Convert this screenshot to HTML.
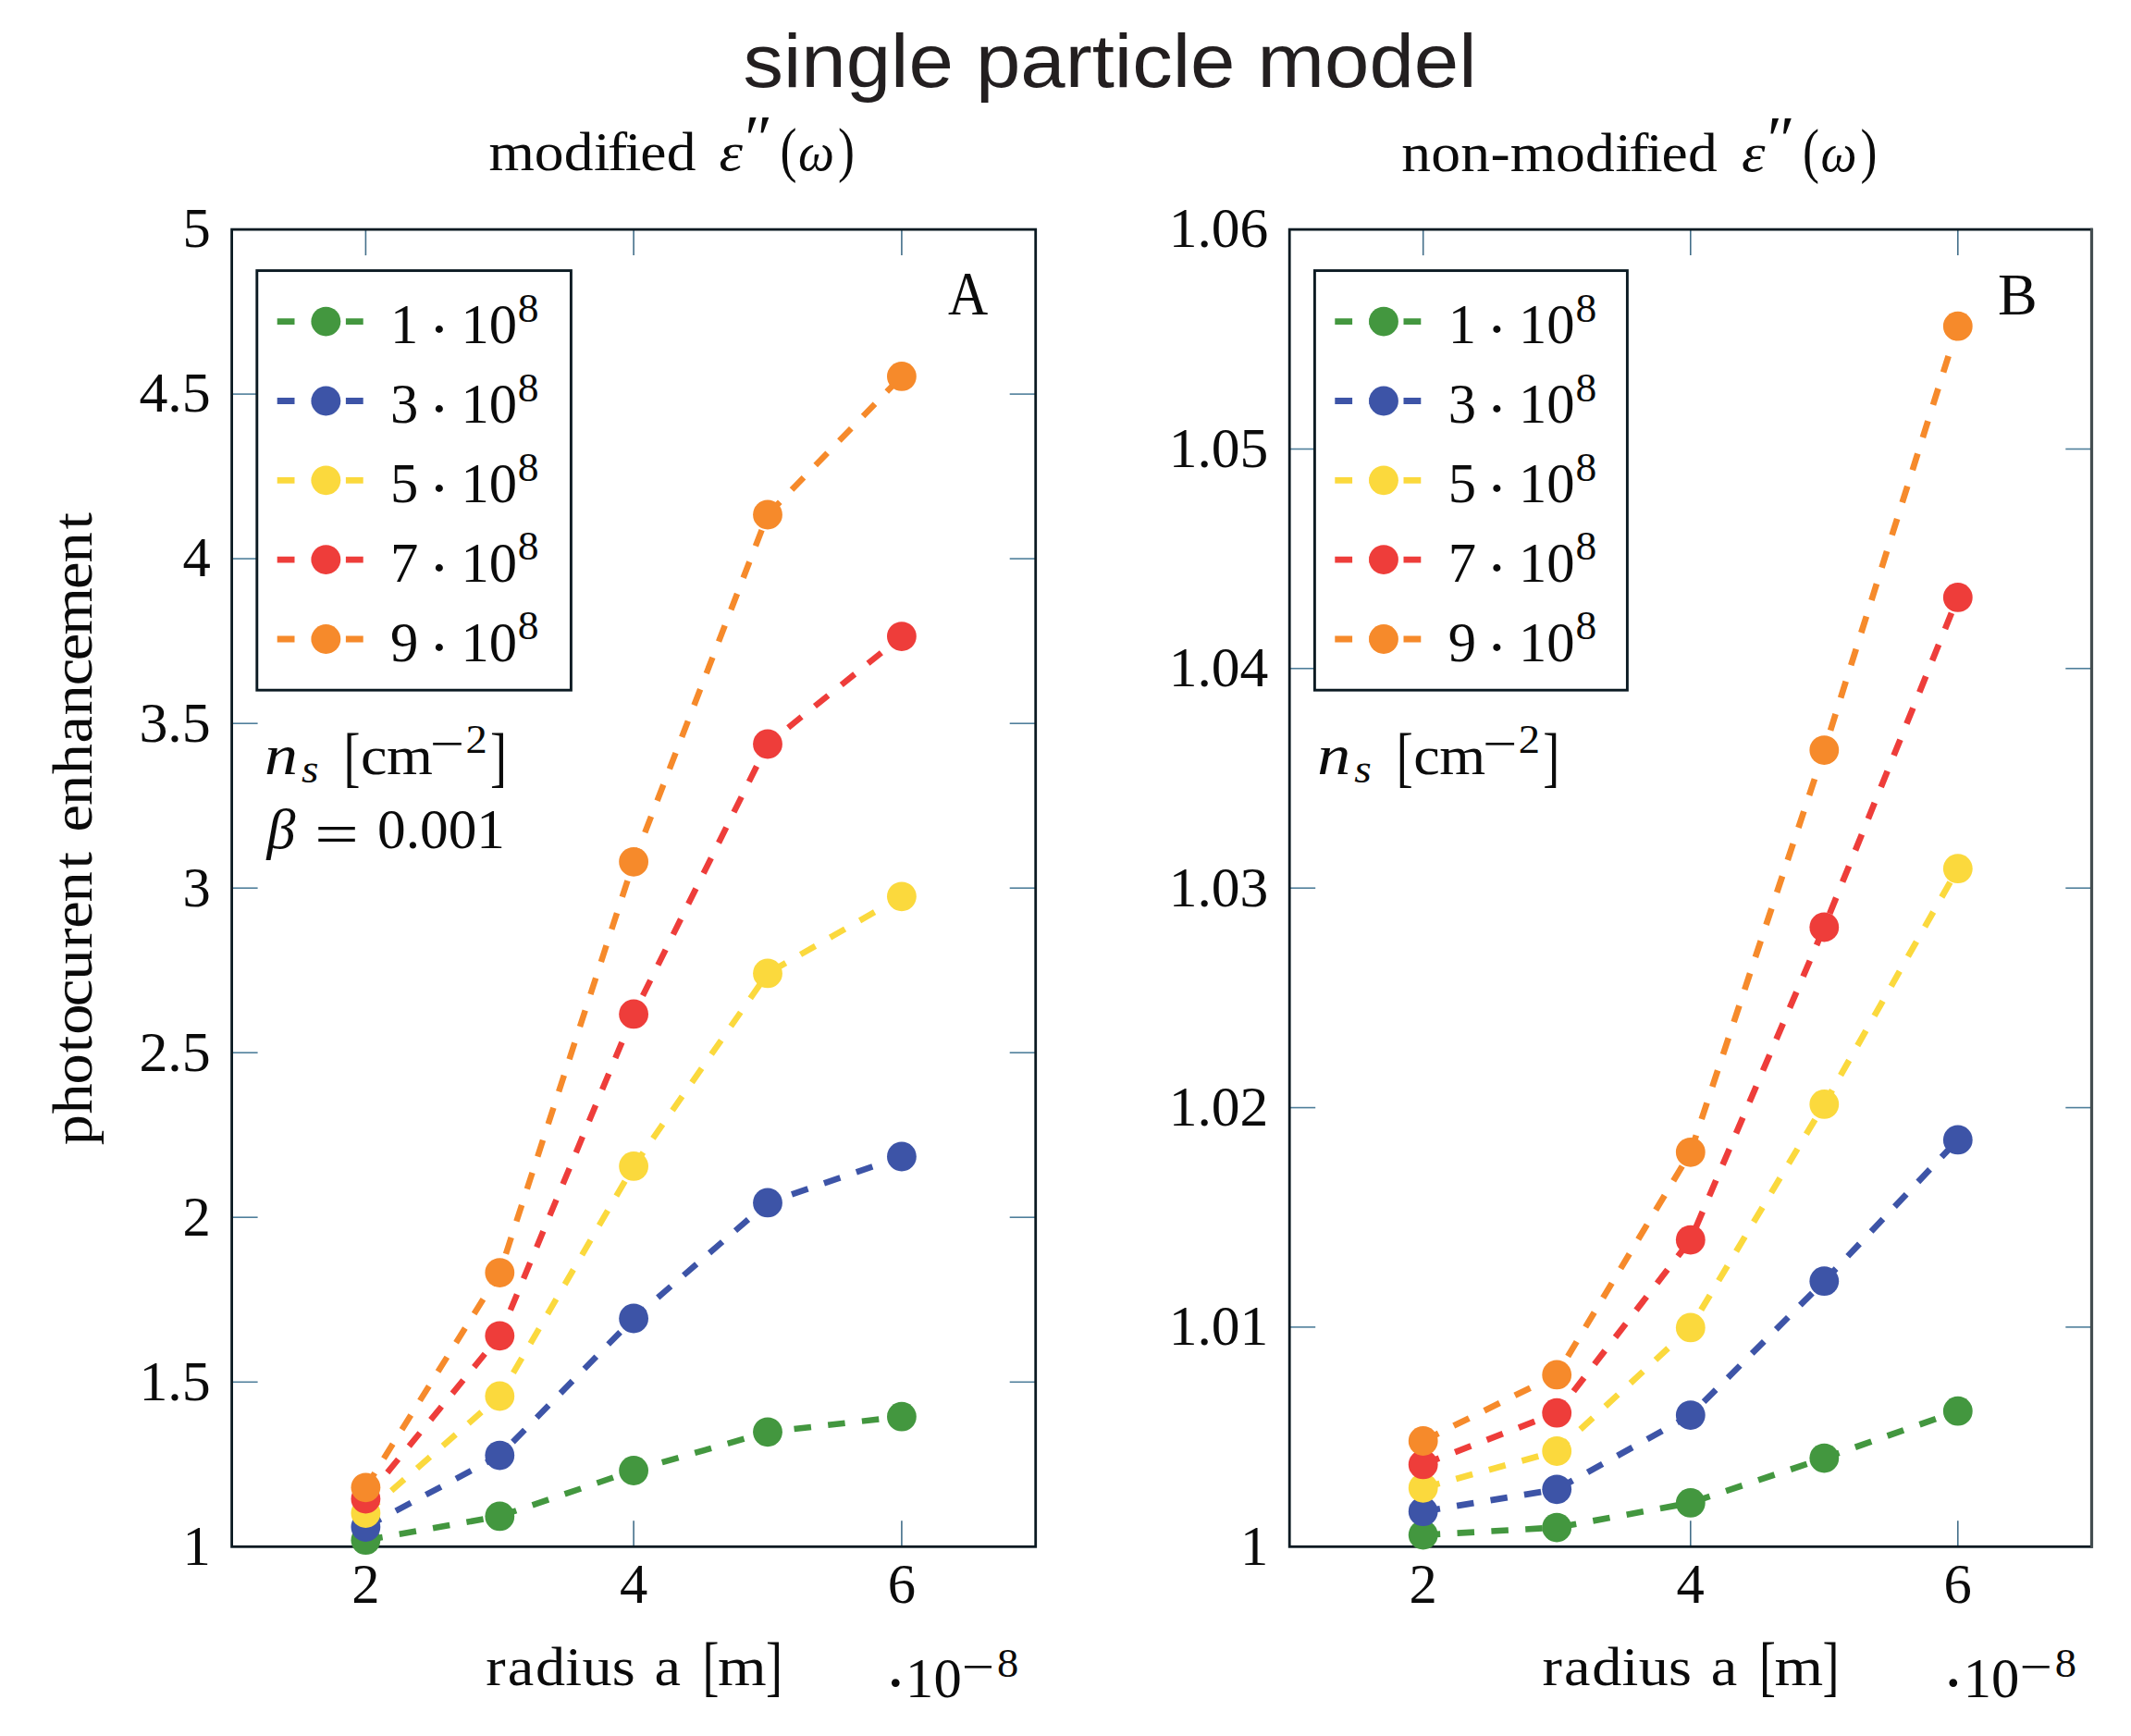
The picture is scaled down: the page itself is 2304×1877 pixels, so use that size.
<!DOCTYPE html>
<html lang="en"><head><meta charset="utf-8"><title>single particle model</title>
<style>html,body{margin:0;padding:0;background:#fff;}svg{display:block;}</style></head><body>
<svg width="2304" height="1877" viewBox="0 0 2304 1877" role="img" aria-label="single particle model: photocurent enhancement versus radius">
<rect width="2304" height="1877" fill="#ffffff"/>
<text x="803.5" y="94.0" font-size="82" text-anchor="start" font-family='"Liberation Sans", sans-serif' fill="#231f20" textLength="793" lengthAdjust="spacingAndGlyphs">single particle model</text>
<text transform="translate(528.0,184.3) scale(1.06,1)" x="0.5 46.9 77.1 107.6 121.8 139.4 155.0 181.9" y="0" font-size="60" font-family='"Liberation Serif", serif' fill="#0b0b0b">modified</text>
<text transform="translate(777.5,184.3) scale(1.08,1.0)" font-size="60" font-style="italic" font-family='"Liberation Serif", serif' fill="#0b0b0b">ε</text>
<text transform="translate(805.0,173.1) scale(1.25,1.22)" font-size="58" font-family='"Liberation Serif", serif' fill="#0b0b0b">″</text>
<text transform="translate(843.5,184.3) scale(0.9,1.08)" font-size="60" font-family='"Liberation Serif", serif' fill="#0b0b0b">(</text>
<text transform="translate(862.9,184.3) scale(0.92,1.0)" font-size="60" font-style="italic" font-family='"Liberation Serif", serif' fill="#0b0b0b">ω</text>
<text transform="translate(906.0,184.3) scale(0.9,1.08)" font-size="60" font-family='"Liberation Serif", serif' fill="#0b0b0b">)</text>
<text transform="translate(1514.3,185.0) scale(1.06,1)" x="0.9 31.1 61.3 91.7 111.7 158.1 188.3 218.8 233.0 250.6 266.2 293.1" y="0" font-size="60" font-family='"Liberation Serif", serif' fill="#0b0b0b">non-modified</text>
<text transform="translate(1883.1,185.0) scale(1.08,1.0)" font-size="60" font-style="italic" font-family='"Liberation Serif", serif' fill="#0b0b0b">ε</text>
<text transform="translate(1910.6,173.8) scale(1.25,1.22)" font-size="58" font-family='"Liberation Serif", serif' fill="#0b0b0b">″</text>
<text transform="translate(1949.1,185.0) scale(0.9,1.08)" font-size="60" font-family='"Liberation Serif", serif' fill="#0b0b0b">(</text>
<text transform="translate(1968.5,185.0) scale(0.92,1.0)" font-size="60" font-style="italic" font-family='"Liberation Serif", serif' fill="#0b0b0b">ω</text>
<text transform="translate(2011.6,185.0) scale(0.9,1.08)" font-size="60" font-family='"Liberation Serif", serif' fill="#0b0b0b">)</text>
<text transform="translate(98.5,1238.5) rotate(-90) scale(1.07,1)" x="0.2 31.7 61.6 93.7 112.0 140.5 167.0 199.1 219.3 245.9 279.5 300.8 316.8 343.4 374.9 406.5 434.7 464.8 489.9 515.7 562.2 588.8 622.4" y="0" font-size="62" font-family='"Liberation Serif", serif' fill="#0b0b0b">photocurent enhancement</text>
<line x1="395.4" y1="248.1" x2="395.4" y2="276.1" stroke="#446f8a" stroke-width="1.6"/>
<line x1="395.4" y1="1672.3" x2="395.4" y2="1644.3" stroke="#446f8a" stroke-width="1.6"/>
<text x="380.3" y="1733.0" font-size="61.5" text-anchor="start" font-family='"Liberation Serif", serif' fill="#0b0b0b" textLength="30.3" lengthAdjust="spacingAndGlyphs">2</text>
<line x1="685.1" y1="248.1" x2="685.1" y2="276.1" stroke="#446f8a" stroke-width="1.6"/>
<line x1="685.1" y1="1672.3" x2="685.1" y2="1644.3" stroke="#446f8a" stroke-width="1.6"/>
<text x="670.0" y="1733.0" font-size="61.5" text-anchor="start" font-family='"Liberation Serif", serif' fill="#0b0b0b" textLength="30.3" lengthAdjust="spacingAndGlyphs">4</text>
<line x1="974.9" y1="248.1" x2="974.9" y2="276.1" stroke="#446f8a" stroke-width="1.6"/>
<line x1="974.9" y1="1672.3" x2="974.9" y2="1644.3" stroke="#446f8a" stroke-width="1.6"/>
<text x="959.7" y="1733.0" font-size="61.5" text-anchor="start" font-family='"Liberation Serif", serif' fill="#0b0b0b" textLength="30.3" lengthAdjust="spacingAndGlyphs">6</text>
<text x="197.5" y="1691.6" font-size="61.5" text-anchor="start" font-family='"Liberation Serif", serif' fill="#0b0b0b" textLength="30.3" lengthAdjust="spacingAndGlyphs">1</text>
<line x1="250.6" y1="1494.3" x2="278.6" y2="1494.3" stroke="#4f7f9b" stroke-width="1.6"/>
<line x1="1119.7" y1="1494.3" x2="1091.7" y2="1494.3" stroke="#4f7f9b" stroke-width="1.6"/>
<text x="150.4" y="1513.6" font-size="61.5" text-anchor="start" font-family='"Liberation Serif", serif' fill="#0b0b0b" textLength="77.4" lengthAdjust="spacingAndGlyphs">1.5</text>
<line x1="250.6" y1="1316.2" x2="278.6" y2="1316.2" stroke="#4f7f9b" stroke-width="1.6"/>
<line x1="1119.7" y1="1316.2" x2="1091.7" y2="1316.2" stroke="#4f7f9b" stroke-width="1.6"/>
<text x="197.5" y="1335.5" font-size="61.5" text-anchor="start" font-family='"Liberation Serif", serif' fill="#0b0b0b" textLength="30.3" lengthAdjust="spacingAndGlyphs">2</text>
<line x1="250.6" y1="1138.2" x2="278.6" y2="1138.2" stroke="#4f7f9b" stroke-width="1.6"/>
<line x1="1119.7" y1="1138.2" x2="1091.7" y2="1138.2" stroke="#4f7f9b" stroke-width="1.6"/>
<text x="150.4" y="1157.5" font-size="61.5" text-anchor="start" font-family='"Liberation Serif", serif' fill="#0b0b0b" textLength="77.4" lengthAdjust="spacingAndGlyphs">2.5</text>
<line x1="250.6" y1="960.2" x2="278.6" y2="960.2" stroke="#4f7f9b" stroke-width="1.6"/>
<line x1="1119.7" y1="960.2" x2="1091.7" y2="960.2" stroke="#4f7f9b" stroke-width="1.6"/>
<text x="197.5" y="979.5" font-size="61.5" text-anchor="start" font-family='"Liberation Serif", serif' fill="#0b0b0b" textLength="30.3" lengthAdjust="spacingAndGlyphs">3</text>
<line x1="250.6" y1="782.2" x2="278.6" y2="782.2" stroke="#4f7f9b" stroke-width="1.6"/>
<line x1="1119.7" y1="782.2" x2="1091.7" y2="782.2" stroke="#4f7f9b" stroke-width="1.6"/>
<text x="150.4" y="801.5" font-size="61.5" text-anchor="start" font-family='"Liberation Serif", serif' fill="#0b0b0b" textLength="77.4" lengthAdjust="spacingAndGlyphs">3.5</text>
<line x1="250.6" y1="604.1" x2="278.6" y2="604.1" stroke="#4f7f9b" stroke-width="1.6"/>
<line x1="1119.7" y1="604.1" x2="1091.7" y2="604.1" stroke="#4f7f9b" stroke-width="1.6"/>
<text x="197.5" y="623.4" font-size="61.5" text-anchor="start" font-family='"Liberation Serif", serif' fill="#0b0b0b" textLength="30.3" lengthAdjust="spacingAndGlyphs">4</text>
<line x1="250.6" y1="426.1" x2="278.6" y2="426.1" stroke="#4f7f9b" stroke-width="1.6"/>
<line x1="1119.7" y1="426.1" x2="1091.7" y2="426.1" stroke="#4f7f9b" stroke-width="1.6"/>
<text x="150.4" y="445.4" font-size="61.5" text-anchor="start" font-family='"Liberation Serif", serif' fill="#0b0b0b" textLength="77.4" lengthAdjust="spacingAndGlyphs">4.5</text>
<text x="197.5" y="267.4" font-size="61.5" text-anchor="start" font-family='"Liberation Serif", serif' fill="#0b0b0b" textLength="30.3" lengthAdjust="spacingAndGlyphs">5</text>
<rect x="250.6" y="248.1" width="869.1" height="1424.2" fill="none" stroke="#0b1a22" stroke-width="2.8"/>
<polyline points="395.4,1665.2 540.3,1639.4 685.1,1590.0 830.0,1548.3 974.9,1531.7" fill="none" stroke="#43973f" stroke-width="6.5" stroke-dasharray="18.5 18.4"/>
<circle cx="395.4" cy="1665.2" r="15.9" fill="#43973f"/>
<circle cx="540.3" cy="1639.4" r="15.9" fill="#43973f"/>
<circle cx="685.1" cy="1590.0" r="15.9" fill="#43973f"/>
<circle cx="830.0" cy="1548.3" r="15.9" fill="#43973f"/>
<circle cx="974.9" cy="1531.7" r="15.9" fill="#43973f"/>
<polyline points="395.4,1651.0 540.3,1573.6 685.1,1425.5 830.0,1300.4 974.9,1250.5" fill="none" stroke="#3d54a7" stroke-width="6.5" stroke-dasharray="18.5 18.4"/>
<circle cx="395.4" cy="1651.0" r="15.9" fill="#3d54a7"/>
<circle cx="540.3" cy="1573.6" r="15.9" fill="#3d54a7"/>
<circle cx="685.1" cy="1425.5" r="15.9" fill="#3d54a7"/>
<circle cx="830.0" cy="1300.4" r="15.9" fill="#3d54a7"/>
<circle cx="974.9" cy="1250.5" r="15.9" fill="#3d54a7"/>
<polyline points="395.4,1636.0 540.3,1509.5 685.1,1260.9 830.0,1052.4 974.9,969.3" fill="none" stroke="#fbd93d" stroke-width="6.5" stroke-dasharray="18.5 18.4"/>
<circle cx="395.4" cy="1636.0" r="15.9" fill="#fbd93d"/>
<circle cx="540.3" cy="1509.5" r="15.9" fill="#fbd93d"/>
<circle cx="685.1" cy="1260.9" r="15.9" fill="#fbd93d"/>
<circle cx="830.0" cy="1052.4" r="15.9" fill="#fbd93d"/>
<circle cx="974.9" cy="969.3" r="15.9" fill="#fbd93d"/>
<polyline points="395.4,1620.6 540.3,1444.3 685.1,1096.4 830.0,804.5 974.9,688.1" fill="none" stroke="#ee3d3a" stroke-width="6.5" stroke-dasharray="18.5 18.4"/>
<circle cx="395.4" cy="1620.6" r="15.9" fill="#ee3d3a"/>
<circle cx="540.3" cy="1444.3" r="15.9" fill="#ee3d3a"/>
<circle cx="685.1" cy="1096.4" r="15.9" fill="#ee3d3a"/>
<circle cx="830.0" cy="804.5" r="15.9" fill="#ee3d3a"/>
<circle cx="974.9" cy="688.1" r="15.9" fill="#ee3d3a"/>
<polyline points="395.4,1608.3 540.3,1376.1 685.1,931.8 830.0,556.5 974.9,406.9" fill="none" stroke="#f68a2b" stroke-width="6.5" stroke-dasharray="18.5 18.4"/>
<circle cx="395.4" cy="1608.3" r="15.9" fill="#f68a2b"/>
<circle cx="540.3" cy="1376.1" r="15.9" fill="#f68a2b"/>
<circle cx="685.1" cy="931.8" r="15.9" fill="#f68a2b"/>
<circle cx="830.0" cy="556.5" r="15.9" fill="#f68a2b"/>
<circle cx="974.9" cy="406.9" r="15.9" fill="#f68a2b"/>
<rect x="277.8" y="292.6" width="339.6" height="453.6" fill="#ffffff" stroke="#0b1a22" stroke-width="2.9"/>
<line x1="299.7" y1="347.6" x2="393.2" y2="347.6" stroke="#43973f" stroke-width="6.8" stroke-dasharray="18.8 18.3"/>
<circle cx="352.4" cy="347.6" r="15.9" fill="#43973f"/>
<text x="422.1" y="371.4" font-size="61.5" text-anchor="start" font-family='"Liberation Serif", serif' fill="#0b0b0b" textLength="30.3" lengthAdjust="spacingAndGlyphs">1</text>
<text transform="translate(463.5,378.1) scale(1.0,1.0)" font-size="68.3" font-family='"Liberation Serif", serif' fill="#0b0b0b">·</text>
<text x="498.4" y="371.4" font-size="61.5" text-anchor="start" font-family='"Liberation Serif", serif' fill="#0b0b0b" textLength="60.6" lengthAdjust="spacingAndGlyphs">10</text>
<text x="559.8" y="347.8" font-size="44.8" text-anchor="start" font-family='"Liberation Serif", serif' fill="#0b0b0b" textLength="22.8" lengthAdjust="spacingAndGlyphs">8</text>
<line x1="299.7" y1="433.5" x2="393.2" y2="433.5" stroke="#3d54a7" stroke-width="6.8" stroke-dasharray="18.8 18.3"/>
<circle cx="352.4" cy="433.5" r="15.9" fill="#3d54a7"/>
<text x="422.1" y="457.3" font-size="61.5" text-anchor="start" font-family='"Liberation Serif", serif' fill="#0b0b0b" textLength="30.3" lengthAdjust="spacingAndGlyphs">3</text>
<text transform="translate(463.5,464.0) scale(1.0,1.0)" font-size="68.3" font-family='"Liberation Serif", serif' fill="#0b0b0b">·</text>
<text x="498.4" y="457.3" font-size="61.5" text-anchor="start" font-family='"Liberation Serif", serif' fill="#0b0b0b" textLength="60.6" lengthAdjust="spacingAndGlyphs">10</text>
<text x="559.8" y="433.7" font-size="44.8" text-anchor="start" font-family='"Liberation Serif", serif' fill="#0b0b0b" textLength="22.8" lengthAdjust="spacingAndGlyphs">8</text>
<line x1="299.7" y1="519.3" x2="393.2" y2="519.3" stroke="#fbd93d" stroke-width="6.8" stroke-dasharray="18.8 18.3"/>
<circle cx="352.4" cy="519.3" r="15.9" fill="#fbd93d"/>
<text x="422.1" y="543.1" font-size="61.5" text-anchor="start" font-family='"Liberation Serif", serif' fill="#0b0b0b" textLength="30.3" lengthAdjust="spacingAndGlyphs">5</text>
<text transform="translate(463.5,549.8) scale(1.0,1.0)" font-size="68.3" font-family='"Liberation Serif", serif' fill="#0b0b0b">·</text>
<text x="498.4" y="543.1" font-size="61.5" text-anchor="start" font-family='"Liberation Serif", serif' fill="#0b0b0b" textLength="60.6" lengthAdjust="spacingAndGlyphs">10</text>
<text x="559.8" y="519.5" font-size="44.8" text-anchor="start" font-family='"Liberation Serif", serif' fill="#0b0b0b" textLength="22.8" lengthAdjust="spacingAndGlyphs">8</text>
<line x1="299.7" y1="605.1" x2="393.2" y2="605.1" stroke="#ee3d3a" stroke-width="6.8" stroke-dasharray="18.8 18.3"/>
<circle cx="352.4" cy="605.1" r="15.9" fill="#ee3d3a"/>
<text x="422.1" y="628.9" font-size="61.5" text-anchor="start" font-family='"Liberation Serif", serif' fill="#0b0b0b" textLength="30.3" lengthAdjust="spacingAndGlyphs">7</text>
<text transform="translate(463.5,635.6) scale(1.0,1.0)" font-size="68.3" font-family='"Liberation Serif", serif' fill="#0b0b0b">·</text>
<text x="498.4" y="628.9" font-size="61.5" text-anchor="start" font-family='"Liberation Serif", serif' fill="#0b0b0b" textLength="60.6" lengthAdjust="spacingAndGlyphs">10</text>
<text x="559.8" y="605.3" font-size="44.8" text-anchor="start" font-family='"Liberation Serif", serif' fill="#0b0b0b" textLength="22.8" lengthAdjust="spacingAndGlyphs">8</text>
<line x1="299.7" y1="691.0" x2="393.2" y2="691.0" stroke="#f68a2b" stroke-width="6.8" stroke-dasharray="18.8 18.3"/>
<circle cx="352.4" cy="691.0" r="15.9" fill="#f68a2b"/>
<text x="422.1" y="714.8" font-size="61.5" text-anchor="start" font-family='"Liberation Serif", serif' fill="#0b0b0b" textLength="30.3" lengthAdjust="spacingAndGlyphs">9</text>
<text transform="translate(463.5,721.5) scale(1.0,1.0)" font-size="68.3" font-family='"Liberation Serif", serif' fill="#0b0b0b">·</text>
<text x="498.4" y="714.8" font-size="61.5" text-anchor="start" font-family='"Liberation Serif", serif' fill="#0b0b0b" textLength="60.6" lengthAdjust="spacingAndGlyphs">10</text>
<text x="559.8" y="691.2" font-size="44.8" text-anchor="start" font-family='"Liberation Serif", serif' fill="#0b0b0b" textLength="22.8" lengthAdjust="spacingAndGlyphs">8</text>
<text transform="translate(286.1,837.0) scale(1.16,1.0)" font-size="62" font-style="italic" font-family='"Liberation Serif", serif' fill="#0b0b0b">n</text>
<text transform="translate(326.1,846.0) scale(1.08,1.0)" font-size="44" font-style="italic" font-family='"Liberation Serif", serif' fill="#0b0b0b">s</text>
<text transform="translate(371.6,842.0) scale(0.9,1.2)" font-size="60" font-family='"Liberation Serif", serif' fill="#0b0b0b">[</text>
<text transform="translate(390.8,837.0) scale(1.07,1)" x="-0.7 25.4" y="0" font-size="60" font-family='"Liberation Serif", serif' fill="#0b0b0b">cm</text>
<text transform="translate(465.1,821.5) scale(1.5,1.2)" font-size="44" font-family='"Liberation Serif", serif' fill="#0b0b0b">−</text>
<text transform="translate(503.6,813.5) scale(1.04,1.0)" font-size="44.8" font-family='"Liberation Serif", serif' fill="#0b0b0b">2</text>
<text transform="translate(530.1,842.0) scale(0.9,1.2)" font-size="60" font-family='"Liberation Serif", serif' fill="#0b0b0b">]</text>
<text transform="translate(524.1,1821.8) scale(1.07,1)" x="1.1 23.0 51.3 81.5 98.5 128.7 153.5 171.3" y="0" font-size="60" font-family='"Liberation Serif", serif' fill="#0b0b0b">radius a</text>
<text transform="translate(759.6,1825.0) scale(0.9,1.2)" font-size="60" font-family='"Liberation Serif", serif' fill="#0b0b0b">[</text>
<text transform="translate(776.1,1821.8) scale(1.13,1.0)" font-size="60" font-family='"Liberation Serif", serif' fill="#0b0b0b">m</text>
<text transform="translate(828.1,1825.0) scale(0.9,1.2)" font-size="60" font-family='"Liberation Serif", serif' fill="#0b0b0b">]</text>
<text transform="translate(955.9,1844.0) scale(1.0,1.0)" font-size="73.8" font-family='"Liberation Serif", serif' fill="#0b0b0b">·</text>
<text x="979.1" y="1834.5" font-size="61.5" text-anchor="start" font-family='"Liberation Serif", serif' fill="#0b0b0b" textLength="60.6" lengthAdjust="spacingAndGlyphs">10</text>
<text transform="translate(1040.1,1819.5) scale(1.42,1.2)" font-size="44" font-family='"Liberation Serif", serif' fill="#0b0b0b">−</text>
<text transform="translate(1078.1,1812.6) scale(1.04,1.0)" font-size="44.8" font-family='"Liberation Serif", serif' fill="#0b0b0b">8</text>
<line x1="1538.7" y1="248.1" x2="1538.7" y2="276.1" stroke="#446f8a" stroke-width="1.6"/>
<line x1="1538.7" y1="1672.3" x2="1538.7" y2="1644.3" stroke="#446f8a" stroke-width="1.6"/>
<text x="1523.6" y="1733.0" font-size="61.5" text-anchor="start" font-family='"Liberation Serif", serif' fill="#0b0b0b" textLength="30.3" lengthAdjust="spacingAndGlyphs">2</text>
<line x1="1827.8" y1="248.1" x2="1827.8" y2="276.1" stroke="#446f8a" stroke-width="1.6"/>
<line x1="1827.8" y1="1672.3" x2="1827.8" y2="1644.3" stroke="#446f8a" stroke-width="1.6"/>
<text x="1812.6" y="1733.0" font-size="61.5" text-anchor="start" font-family='"Liberation Serif", serif' fill="#0b0b0b" textLength="30.3" lengthAdjust="spacingAndGlyphs">4</text>
<line x1="2116.8" y1="248.1" x2="2116.8" y2="276.1" stroke="#446f8a" stroke-width="1.6"/>
<line x1="2116.8" y1="1672.3" x2="2116.8" y2="1644.3" stroke="#446f8a" stroke-width="1.6"/>
<text x="2101.6" y="1733.0" font-size="61.5" text-anchor="start" font-family='"Liberation Serif", serif' fill="#0b0b0b" textLength="30.3" lengthAdjust="spacingAndGlyphs">6</text>
<text x="1341.1" y="1691.6" font-size="61.5" text-anchor="start" font-family='"Liberation Serif", serif' fill="#0b0b0b" textLength="30.3" lengthAdjust="spacingAndGlyphs">1</text>
<line x1="1394.2" y1="1434.9" x2="1422.2" y2="1434.9" stroke="#4f7f9b" stroke-width="1.6"/>
<line x1="2261.3" y1="1434.9" x2="2233.3" y2="1434.9" stroke="#4f7f9b" stroke-width="1.6"/>
<text x="1263.7" y="1454.2" font-size="61.5" text-anchor="start" font-family='"Liberation Serif", serif' fill="#0b0b0b" textLength="107.7" lengthAdjust="spacingAndGlyphs">1.01</text>
<line x1="1394.2" y1="1197.6" x2="1422.2" y2="1197.6" stroke="#4f7f9b" stroke-width="1.6"/>
<line x1="2261.3" y1="1197.6" x2="2233.3" y2="1197.6" stroke="#4f7f9b" stroke-width="1.6"/>
<text x="1263.7" y="1216.9" font-size="61.5" text-anchor="start" font-family='"Liberation Serif", serif' fill="#0b0b0b" textLength="107.7" lengthAdjust="spacingAndGlyphs">1.02</text>
<line x1="1394.2" y1="960.2" x2="1422.2" y2="960.2" stroke="#4f7f9b" stroke-width="1.6"/>
<line x1="2261.3" y1="960.2" x2="2233.3" y2="960.2" stroke="#4f7f9b" stroke-width="1.6"/>
<text x="1263.7" y="979.5" font-size="61.5" text-anchor="start" font-family='"Liberation Serif", serif' fill="#0b0b0b" textLength="107.7" lengthAdjust="spacingAndGlyphs">1.03</text>
<line x1="1394.2" y1="722.8" x2="1422.2" y2="722.8" stroke="#4f7f9b" stroke-width="1.6"/>
<line x1="2261.3" y1="722.8" x2="2233.3" y2="722.8" stroke="#4f7f9b" stroke-width="1.6"/>
<text x="1263.7" y="742.1" font-size="61.5" text-anchor="start" font-family='"Liberation Serif", serif' fill="#0b0b0b" textLength="107.7" lengthAdjust="spacingAndGlyphs">1.04</text>
<line x1="1394.2" y1="485.5" x2="1422.2" y2="485.5" stroke="#4f7f9b" stroke-width="1.6"/>
<line x1="2261.3" y1="485.5" x2="2233.3" y2="485.5" stroke="#4f7f9b" stroke-width="1.6"/>
<text x="1263.7" y="504.8" font-size="61.5" text-anchor="start" font-family='"Liberation Serif", serif' fill="#0b0b0b" textLength="107.7" lengthAdjust="spacingAndGlyphs">1.05</text>
<text x="1263.7" y="267.4" font-size="61.5" text-anchor="start" font-family='"Liberation Serif", serif' fill="#0b0b0b" textLength="107.7" lengthAdjust="spacingAndGlyphs">1.06</text>
<rect x="1394.2" y="248.1" width="867.1" height="1424.2" fill="none" stroke="#0b1a22" stroke-width="2.8"/>
<line x1="2261.6" y1="246.7" x2="2261.6" y2="1673.7" stroke="#454f52" stroke-width="3"/>
<polyline points="1538.7,1659.6 1683.2,1651.6 1827.8,1624.9 1972.3,1576.6 2116.8,1525.7" fill="none" stroke="#43973f" stroke-width="6.7" stroke-dasharray="18.5 18.4"/>
<circle cx="1538.7" cy="1659.6" r="15.9" fill="#43973f"/>
<circle cx="1683.2" cy="1651.6" r="15.9" fill="#43973f"/>
<circle cx="1827.8" cy="1624.9" r="15.9" fill="#43973f"/>
<circle cx="1972.3" cy="1576.6" r="15.9" fill="#43973f"/>
<circle cx="2116.8" cy="1525.7" r="15.9" fill="#43973f"/>
<polyline points="1538.7,1634.2 1683.2,1610.3 1827.8,1530.1 1972.3,1385.2 2116.8,1232.4" fill="none" stroke="#3d54a7" stroke-width="6.7" stroke-dasharray="18.5 18.4"/>
<circle cx="1538.7" cy="1634.2" r="15.9" fill="#3d54a7"/>
<circle cx="1683.2" cy="1610.3" r="15.9" fill="#3d54a7"/>
<circle cx="1827.8" cy="1530.1" r="15.9" fill="#3d54a7"/>
<circle cx="1972.3" cy="1385.2" r="15.9" fill="#3d54a7"/>
<circle cx="2116.8" cy="1232.4" r="15.9" fill="#3d54a7"/>
<polyline points="1538.7,1608.8 1683.2,1569.0 1827.8,1435.4 1972.3,1193.9 2116.8,939.2" fill="none" stroke="#fbd93d" stroke-width="6.7" stroke-dasharray="18.5 18.4"/>
<circle cx="1538.7" cy="1608.8" r="15.9" fill="#fbd93d"/>
<circle cx="1683.2" cy="1569.0" r="15.9" fill="#fbd93d"/>
<circle cx="1827.8" cy="1435.4" r="15.9" fill="#fbd93d"/>
<circle cx="1972.3" cy="1193.9" r="15.9" fill="#fbd93d"/>
<circle cx="2116.8" cy="939.2" r="15.9" fill="#fbd93d"/>
<polyline points="1538.7,1583.4 1683.2,1527.7 1827.8,1340.6 1972.3,1002.5 2116.8,645.9" fill="none" stroke="#ee3d3a" stroke-width="6.7" stroke-dasharray="18.5 18.4"/>
<circle cx="1538.7" cy="1583.4" r="15.9" fill="#ee3d3a"/>
<circle cx="1683.2" cy="1527.7" r="15.9" fill="#ee3d3a"/>
<circle cx="1827.8" cy="1340.6" r="15.9" fill="#ee3d3a"/>
<circle cx="1972.3" cy="1002.5" r="15.9" fill="#ee3d3a"/>
<circle cx="2116.8" cy="645.9" r="15.9" fill="#ee3d3a"/>
<polyline points="1538.7,1558.0 1683.2,1486.4 1827.8,1245.8 1972.3,811.1 2116.8,352.7" fill="none" stroke="#f68a2b" stroke-width="6.7" stroke-dasharray="18.5 18.4"/>
<circle cx="1538.7" cy="1558.0" r="15.9" fill="#f68a2b"/>
<circle cx="1683.2" cy="1486.4" r="15.9" fill="#f68a2b"/>
<circle cx="1827.8" cy="1245.8" r="15.9" fill="#f68a2b"/>
<circle cx="1972.3" cy="811.1" r="15.9" fill="#f68a2b"/>
<circle cx="2116.8" cy="352.7" r="15.9" fill="#f68a2b"/>
<rect x="1421.4" y="292.6" width="338.0" height="453.6" fill="#ffffff" stroke="#0b1a22" stroke-width="2.9"/>
<line x1="1443.3" y1="347.6" x2="1536.8" y2="347.6" stroke="#43973f" stroke-width="6.8" stroke-dasharray="18.8 18.3"/>
<circle cx="1496.0" cy="347.6" r="15.9" fill="#43973f"/>
<text x="1565.7" y="371.4" font-size="61.5" text-anchor="start" font-family='"Liberation Serif", serif' fill="#0b0b0b" textLength="30.3" lengthAdjust="spacingAndGlyphs">1</text>
<text transform="translate(1607.1,378.1) scale(1.0,1.0)" font-size="68.3" font-family='"Liberation Serif", serif' fill="#0b0b0b">·</text>
<text x="1642.0" y="371.4" font-size="61.5" text-anchor="start" font-family='"Liberation Serif", serif' fill="#0b0b0b" textLength="60.6" lengthAdjust="spacingAndGlyphs">10</text>
<text x="1703.4" y="347.8" font-size="44.8" text-anchor="start" font-family='"Liberation Serif", serif' fill="#0b0b0b" textLength="22.8" lengthAdjust="spacingAndGlyphs">8</text>
<line x1="1443.3" y1="433.5" x2="1536.8" y2="433.5" stroke="#3d54a7" stroke-width="6.8" stroke-dasharray="18.8 18.3"/>
<circle cx="1496.0" cy="433.5" r="15.9" fill="#3d54a7"/>
<text x="1565.7" y="457.3" font-size="61.5" text-anchor="start" font-family='"Liberation Serif", serif' fill="#0b0b0b" textLength="30.3" lengthAdjust="spacingAndGlyphs">3</text>
<text transform="translate(1607.1,464.0) scale(1.0,1.0)" font-size="68.3" font-family='"Liberation Serif", serif' fill="#0b0b0b">·</text>
<text x="1642.0" y="457.3" font-size="61.5" text-anchor="start" font-family='"Liberation Serif", serif' fill="#0b0b0b" textLength="60.6" lengthAdjust="spacingAndGlyphs">10</text>
<text x="1703.4" y="433.7" font-size="44.8" text-anchor="start" font-family='"Liberation Serif", serif' fill="#0b0b0b" textLength="22.8" lengthAdjust="spacingAndGlyphs">8</text>
<line x1="1443.3" y1="519.3" x2="1536.8" y2="519.3" stroke="#fbd93d" stroke-width="6.8" stroke-dasharray="18.8 18.3"/>
<circle cx="1496.0" cy="519.3" r="15.9" fill="#fbd93d"/>
<text x="1565.7" y="543.1" font-size="61.5" text-anchor="start" font-family='"Liberation Serif", serif' fill="#0b0b0b" textLength="30.3" lengthAdjust="spacingAndGlyphs">5</text>
<text transform="translate(1607.1,549.8) scale(1.0,1.0)" font-size="68.3" font-family='"Liberation Serif", serif' fill="#0b0b0b">·</text>
<text x="1642.0" y="543.1" font-size="61.5" text-anchor="start" font-family='"Liberation Serif", serif' fill="#0b0b0b" textLength="60.6" lengthAdjust="spacingAndGlyphs">10</text>
<text x="1703.4" y="519.5" font-size="44.8" text-anchor="start" font-family='"Liberation Serif", serif' fill="#0b0b0b" textLength="22.8" lengthAdjust="spacingAndGlyphs">8</text>
<line x1="1443.3" y1="605.1" x2="1536.8" y2="605.1" stroke="#ee3d3a" stroke-width="6.8" stroke-dasharray="18.8 18.3"/>
<circle cx="1496.0" cy="605.1" r="15.9" fill="#ee3d3a"/>
<text x="1565.7" y="628.9" font-size="61.5" text-anchor="start" font-family='"Liberation Serif", serif' fill="#0b0b0b" textLength="30.3" lengthAdjust="spacingAndGlyphs">7</text>
<text transform="translate(1607.1,635.6) scale(1.0,1.0)" font-size="68.3" font-family='"Liberation Serif", serif' fill="#0b0b0b">·</text>
<text x="1642.0" y="628.9" font-size="61.5" text-anchor="start" font-family='"Liberation Serif", serif' fill="#0b0b0b" textLength="60.6" lengthAdjust="spacingAndGlyphs">10</text>
<text x="1703.4" y="605.3" font-size="44.8" text-anchor="start" font-family='"Liberation Serif", serif' fill="#0b0b0b" textLength="22.8" lengthAdjust="spacingAndGlyphs">8</text>
<line x1="1443.3" y1="691.0" x2="1536.8" y2="691.0" stroke="#f68a2b" stroke-width="6.8" stroke-dasharray="18.8 18.3"/>
<circle cx="1496.0" cy="691.0" r="15.9" fill="#f68a2b"/>
<text x="1565.7" y="714.8" font-size="61.5" text-anchor="start" font-family='"Liberation Serif", serif' fill="#0b0b0b" textLength="30.3" lengthAdjust="spacingAndGlyphs">9</text>
<text transform="translate(1607.1,721.5) scale(1.0,1.0)" font-size="68.3" font-family='"Liberation Serif", serif' fill="#0b0b0b">·</text>
<text x="1642.0" y="714.8" font-size="61.5" text-anchor="start" font-family='"Liberation Serif", serif' fill="#0b0b0b" textLength="60.6" lengthAdjust="spacingAndGlyphs">10</text>
<text x="1703.4" y="691.2" font-size="44.8" text-anchor="start" font-family='"Liberation Serif", serif' fill="#0b0b0b" textLength="22.8" lengthAdjust="spacingAndGlyphs">8</text>
<text transform="translate(1424.3,837.0) scale(1.16,1.0)" font-size="62" font-style="italic" font-family='"Liberation Serif", serif' fill="#0b0b0b">n</text>
<text transform="translate(1464.3,846.0) scale(1.08,1.0)" font-size="44" font-style="italic" font-family='"Liberation Serif", serif' fill="#0b0b0b">s</text>
<text transform="translate(1509.8,842.0) scale(0.9,1.2)" font-size="60" font-family='"Liberation Serif", serif' fill="#0b0b0b">[</text>
<text transform="translate(1529.0,837.0) scale(1.07,1)" x="-0.7 25.4" y="0" font-size="60" font-family='"Liberation Serif", serif' fill="#0b0b0b">cm</text>
<text transform="translate(1603.3,821.5) scale(1.5,1.2)" font-size="44" font-family='"Liberation Serif", serif' fill="#0b0b0b">−</text>
<text transform="translate(1641.8,813.5) scale(1.04,1.0)" font-size="44.8" font-family='"Liberation Serif", serif' fill="#0b0b0b">2</text>
<text transform="translate(1668.3,842.0) scale(0.9,1.2)" font-size="60" font-family='"Liberation Serif", serif' fill="#0b0b0b">]</text>
<text transform="translate(1666.4,1821.8) scale(1.07,1)" x="1.1 23.0 51.3 81.5 98.5 128.7 153.5 171.3" y="0" font-size="60" font-family='"Liberation Serif", serif' fill="#0b0b0b">radius a</text>
<text transform="translate(1901.9,1825.0) scale(0.9,1.2)" font-size="60" font-family='"Liberation Serif", serif' fill="#0b0b0b">[</text>
<text transform="translate(1918.4,1821.8) scale(1.13,1.0)" font-size="60" font-family='"Liberation Serif", serif' fill="#0b0b0b">m</text>
<text transform="translate(1970.4,1825.0) scale(0.9,1.2)" font-size="60" font-family='"Liberation Serif", serif' fill="#0b0b0b">]</text>
<text transform="translate(2099.5,1844.0) scale(1.0,1.0)" font-size="73.8" font-family='"Liberation Serif", serif' fill="#0b0b0b">·</text>
<text x="2122.7" y="1834.5" font-size="61.5" text-anchor="start" font-family='"Liberation Serif", serif' fill="#0b0b0b" textLength="60.6" lengthAdjust="spacingAndGlyphs">10</text>
<text transform="translate(2183.7,1819.5) scale(1.42,1.2)" font-size="44" font-family='"Liberation Serif", serif' fill="#0b0b0b">−</text>
<text transform="translate(2221.7,1812.6) scale(1.04,1.0)" font-size="44.8" font-family='"Liberation Serif", serif' fill="#0b0b0b">8</text>
<text transform="translate(1025.0,339.5) scale(0.88,1.0)" font-size="68" font-family='"Liberation Serif", serif' fill="#0b0b0b">A</text>
<text transform="translate(2160.0,339.8) scale(1.0,1.0)" font-size="64" font-family='"Liberation Serif", serif' fill="#0b0b0b">B</text>
<text transform="translate(288.5,916.7) scale(1.0,1.0)" font-size="62" font-style="italic" font-family='"Liberation Serif", serif' fill="#0b0b0b">β</text>
<text transform="translate(340.0,922.5) scale(1.33,1.0)" font-size="64" font-family='"Liberation Serif", serif' fill="#0b0b0b">=</text>
<text x="408.0" y="916.7" font-size="61.5" text-anchor="start" font-family='"Liberation Serif", serif' fill="#0b0b0b" textLength="138.0" lengthAdjust="spacingAndGlyphs">0.001</text>
</svg></body></html>
